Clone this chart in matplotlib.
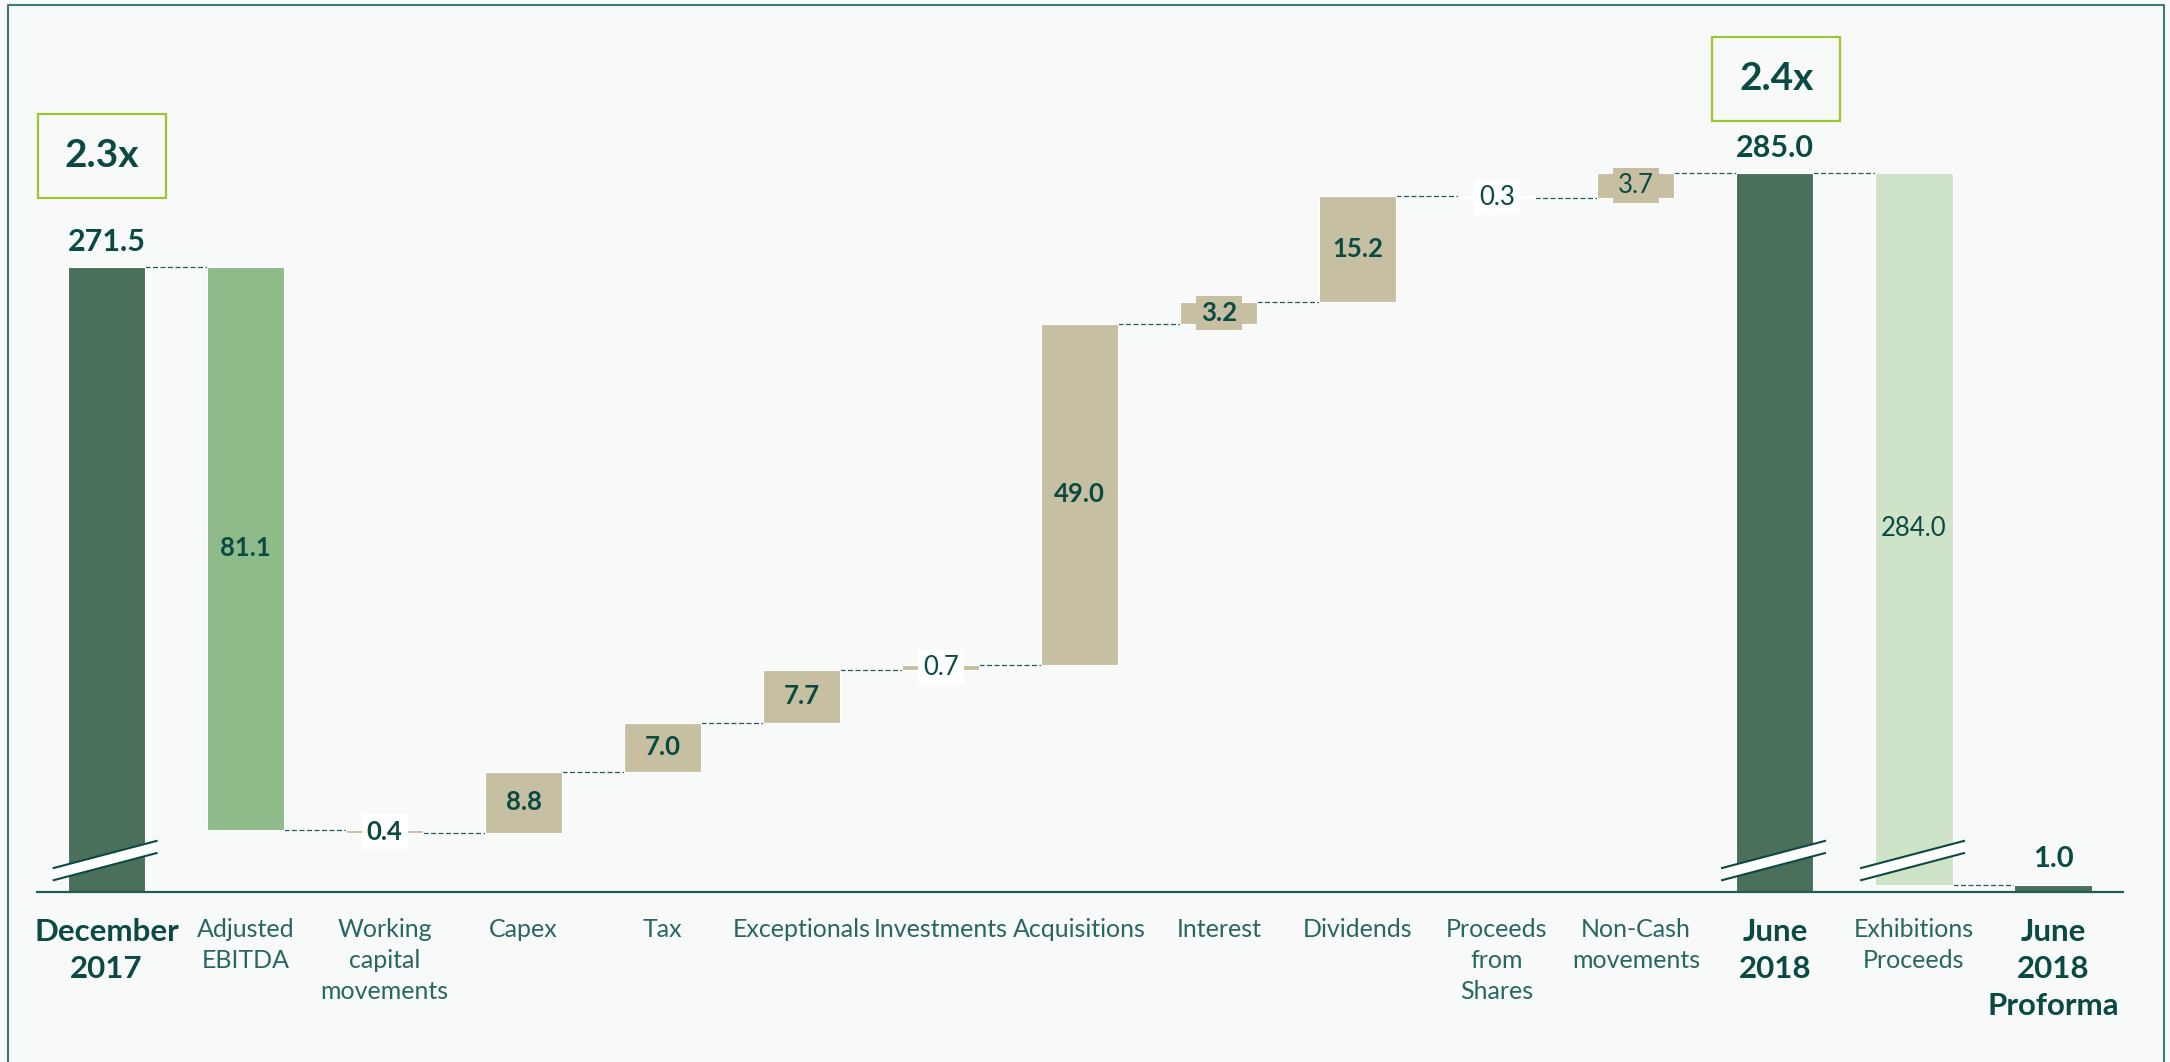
import matplotlib
matplotlib.use("Agg")
import matplotlib.pyplot as plt
from matplotlib.patches import Rectangle, Polygon
from matplotlib.lines import Line2D

plt.rcParams["font.family"] = ["Lato", "DejaVu Sans"]

# ---------------------------------------------------------------- data
categories = [
    "December\n2017", "Adjusted\nEBITDA", "Working\ncapital\nmovements",
    "Capex", "Tax", "Exceptionals", "Investments", "Acquisitions",
    "Interest", "Dividends", "Proceeds\nfrom\nShares", "Non-Cash\nmovements",
    "June\n2018", "Exhibitions\nProceeds", "June\n2018\nProforma",
]
opening_value = 271.5
movement_values = [-81.1, -0.4, 8.8, 7.0, 7.7, 0.7, 49.0, 3.2, 15.2, -0.3, 3.7]
closing_value = 285.0
exhibitions_value = -284.0
proforma_value = 1.0
leverage_labels = ["2.3x", "2.4x"]

# ---------------------------------------------------------------- styling
W, H = 2170, 1062
BG = "#f8fafa"
TXT = "#0b4a43"
DARK = "#4a6f5a"
EBITDA_C = "#8fba89"
TAN = "#c6bfa2"
PALE = "#cfe3c8"
LIME = "#9cc62f"
DASH_C = "#245955"

BREAK_SHIFT = 181.5      # values above the break are drawn shifted down
BREAK_LEVEL = 100.0
PX_PER_UNIT = 6.95
BAR_W = 0.555


def to_axis(v):
    return v - BREAK_SHIFT if v > BREAK_LEVEL else v


# build waterfall segments (start, end) in real values
segments = [(0.0, opening_value)]
level = opening_value
for mv in movement_values:
    segments.append((level, level + mv))
    level += mv
segments.append((0.0, closing_value))
segments.append((closing_value, closing_value + exhibitions_value))
segments.append((0.0, proforma_value))

labels = [f"{opening_value:.1f}"] + [f"{abs(m):.1f}" for m in movement_values] + \
         [f"{closing_value:.1f}", f"{abs(exhibitions_value):.1f}", f"{proforma_value:.1f}"]

colors = [DARK, EBITDA_C, TAN, TAN, TAN, TAN, TAN, TAN, TAN, TAN, "white", TAN,
          DARK, PALE, DARK]
# label style: (placement, weight, box colour)
label_style = [
    ("above", "bold", None), ("center", "bold", None), ("center", "bold", "white"),
    ("center", "bold", None), ("center", "bold", None), ("center", "bold", None),
    ("center", "normal", "white"), ("center", "bold", None), ("center", "bold", TAN),
    ("center", "bold", None), ("center", "normal", "white"), ("center", "normal", TAN),
    ("above", "bold", None), ("center", "normal", None), ("above", "bold", None),
]
totals = {0, 12, 14}
broken = {0, 12, 13}

fig = plt.figure(figsize=(W / 100, H / 100), dpi=100)
fig.patch.set_facecolor(BG)
ax_h = 872
ax = fig.add_axes([37 / W, 170 / H, (2122.5 - 37) / W, ax_h / H])
ax.set_facecolor(BG)
ax.set_xlim(-0.5, len(categories) - 0.5)
ax.set_ylim(0, ax_h / PX_PER_UNIT)
for s in ["top", "right", "left"]:
    ax.spines[s].set_visible(False)
ax.spines["bottom"].set_color("#1f5b58")
ax.spines["bottom"].set_linewidth(1.6)
ax.set_xticks([])
ax.set_yticks([])

xs = list(range(len(categories)))
bottoms = [to_axis(min(a, b)) for a, b in segments]
tops = [to_axis(max(a, b)) for a, b in segments]
heights = [t - b for t, b in zip(tops, bottoms)]
ax.bar(xs, heights, bottom=bottoms, width=BAR_W, color=colors,
       edgecolor="white", linewidth=0.8, zorder=2)

# dashed connectors between consecutive bars
for i in range(len(segments) - 1):
    y = to_axis(segments[i][1])
    ax.plot([i + BAR_W / 2, i + 1 - BAR_W / 2], [y, y], color=DASH_C,
            lw=0.9, dashes=(4, 2), zorder=1)

# axis-break marks
for i in broken:
    x0, x1 = i - 0.38, i + 0.36
    ya0, ya1 = 3.45, 7.35
    yb0, yb1 = 1.7, 5.6
    ax.add_patch(Polygon([[x0, ya0], [x1, ya1], [x1, yb1], [x0, yb0]],
                         closed=True, facecolor="white", edgecolor="none", zorder=3))
    ax.plot([x0, x1], [ya0, ya1], color=TXT, lw=1.5, zorder=4)
    ax.plot([x0, x1], [yb0, yb1], color=TXT, lw=1.5, zorder=4)

# value labels
for i, (lab, (place, weight, box)) in enumerate(zip(labels, label_style)):
    if place == "above":
        size = 22 if i != 14 else 21
        off = 17.5 if i != 14 else 18.5
        ax.annotate(lab, xy=(i, tops[i]), xytext=(0, off), textcoords="offset points",
                    ha="center", va="center", fontsize=size, fontweight="bold",
                    color=TXT, zorder=6)
    else:
        kw = {}
        if box is not None:
            kw["bbox"] = dict(boxstyle="square,pad=0.2", facecolor=box, edgecolor="none")
        ax.text(i, (tops[i] + bottoms[i]) / 2, lab, ha="center", va="center",
                fontsize=18.5, fontweight=weight, color=TXT, zorder=6, **kw)

# leverage multiple boxes above the opening and closing bars
box_w, box_h = 128 / 139, 84 / PX_PER_UNIT
for (i, lift_px, dx_px), txt in zip([(0, 111, -5), (12, 94, 1.5)], leverage_labels):
    cx = i + dx_px / 139
    cy = tops[i] + lift_px / PX_PER_UNIT
    ax.add_patch(Rectangle((cx - box_w / 2, cy - box_h / 2), box_w, box_h,
                           facecolor="none", edgecolor=LIME, lw=1.6, zorder=5,
                           clip_on=False))
    ax.text(cx, cy, txt, ha="center", va="center", fontsize=28,
            fontweight="bold", color=TXT, zorder=6)

# category labels
for i, cat in enumerate(categories):
    if i in totals:
        ax.annotate(cat, xy=(i, 0), xytext=(0, -19), textcoords="offset points",
                    ha="center", va="top", fontsize=22.5, fontweight="bold",
                    color=TXT, linespacing=1.38, annotation_clip=False)
    else:
        ax.annotate(cat, xy=(i, 0), xytext=(0, -19), textcoords="offset points",
                    ha="center", va="top", fontsize=18, fontweight="normal",
                    color="#2a6661", linespacing=1.42, annotation_clip=False)

# outer frame (left, top, right)
fig.add_artist(Line2D([7.5 / W, 7.5 / W, 2164 / W, 2164 / W],
                      [0, 1 - 4.5 / H, 1 - 4.5 / H, 0],
                      transform=fig.transFigure, color="#3f7a78", lw=1.5))

fig.savefig("out.png", dpi=100, facecolor=BG)
